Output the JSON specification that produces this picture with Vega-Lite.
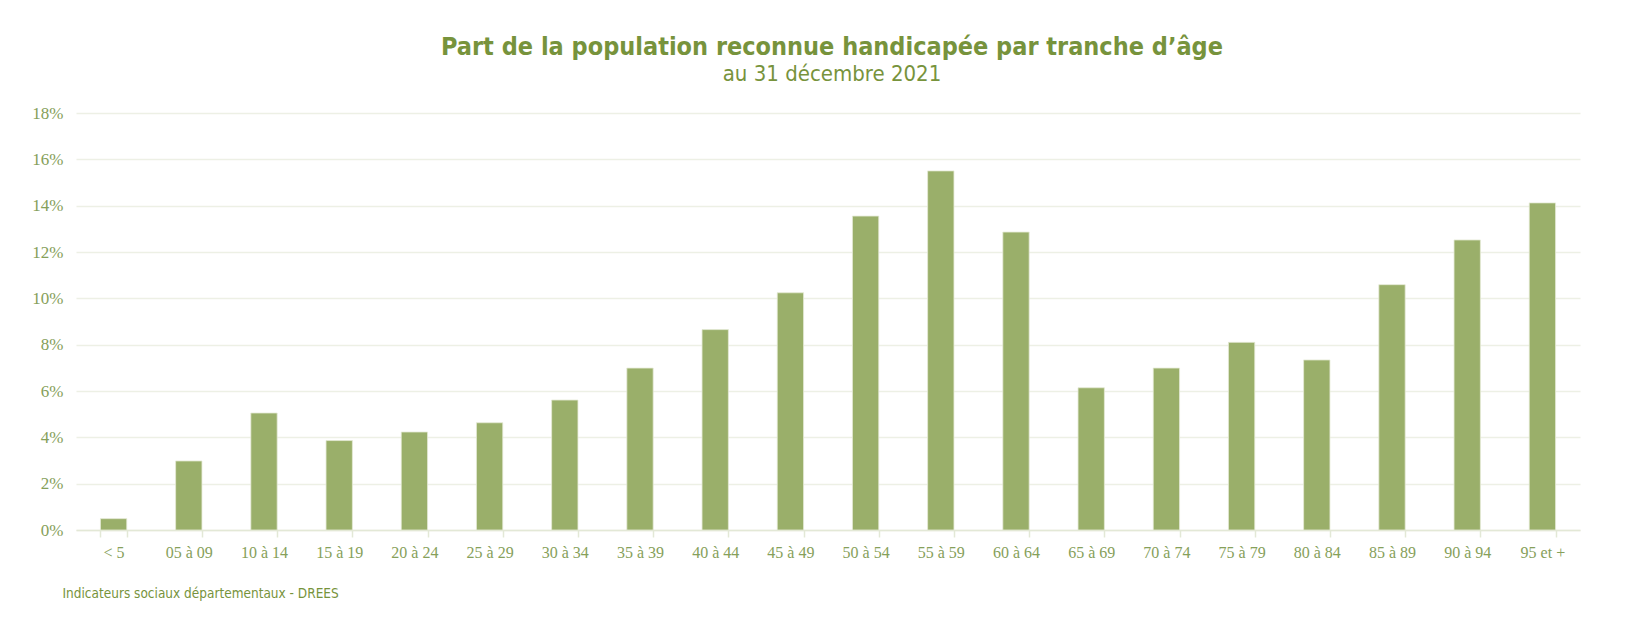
{
  "$schema": "https://vega.github.io/schema/vega-lite/v6.json",
  "autosize": {"type": "none"},
  "width": 1504,
  "height": 417,
  "padding": {"left": 76, "top": 113, "right": 51, "bottom": 88},
  "background": "white",
  "config": {"view": {"stroke": null}},
  "title": {
    "text": "Part de la population reconnue handicapée par tranche d’âge",
    "subtitle": "au 31 décembre 2021",
    "anchor": "middle",
    "frame": "group",
    "dx": 4,
    "offset": 19,
    "font": "DejaVu Sans Condensed, Liberation Sans",
    "fontSize": 25,
    "fontWeight": "bold",
    "color": "#77933C",
    "subtitleFont": "DejaVu Sans Condensed, Liberation Sans",
    "subtitleFontSize": 22,
    "subtitleColor": "#77933C",
    "subtitlePadding": 4
  },
  "data": {
    "values": [
      {"age": "< 5", "part": 0.0049},
      {"age": "05 à 09", "part": 0.0298},
      {"age": "10 à 14", "part": 0.0505},
      {"age": "15 à 19", "part": 0.0386},
      {"age": "20 à 24", "part": 0.0423},
      {"age": "25 à 29", "part": 0.0463},
      {"age": "30 à 34", "part": 0.0561},
      {"age": "35 à 39", "part": 0.0699},
      {"age": "40 à 44", "part": 0.0865},
      {"age": "45 à 49", "part": 0.1024},
      {"age": "50 à 54", "part": 0.1355},
      {"age": "55 à 59", "part": 0.155},
      {"age": "60 à 64", "part": 0.1286},
      {"age": "65 à 69", "part": 0.0614},
      {"age": "70 à 74", "part": 0.0699},
      {"age": "75 à 79", "part": 0.081},
      {"age": "80 à 84", "part": 0.0734},
      {"age": "85 à 89", "part": 0.1059},
      {"age": "90 à 94", "part": 0.1252},
      {"age": "95 et +", "part": 0.1412}
    ]
  },
  "mark": {"type": "bar", "color": "#9AAF6A", "stroke": "#E4EAD6", "strokeWidth": 0.8},
  "encoding": {
    "x": {
      "field": "age",
      "type": "nominal",
      "sort": null,
      "scale": {"paddingInner": 0.65, "paddingOuter": 0.325},
      "axis": {
        "title": "Indicateurs sociaux départementaux - DREES",
        "titleFont": "DejaVu Sans Condensed, Liberation Sans",
        "titleFontSize": 13.5,
        "titleFontWeight": "normal",
        "titleColor": "#77933C",
        "titleAnchor": "start",
        "titleAlign": "left",
        "titleBaseline": "middle",
        "titleX": -14,
        "titleY": 63,
        "labelAngle": 0,
        "labelFont": "Liberation Serif",
        "labelFontSize": 16,
        "labelColor": "#86A05A",
        "labelPadding": 7,
        "domainColor": "#E3E8D6",
        "domainWidth": 1.5,
        "tickColor": "#E3E8D6",
        "tickWidth": 1.5,
        "tickSize": 7,
        "tickBand": "extent"
      }
    },
    "y": {
      "field": "part",
      "type": "quantitative",
      "scale": {"domain": [0, 0.18]},
      "axis": {
        "title": null,
        "format": ".0%",
        "values": [0, 0.02, 0.04, 0.06, 0.08, 0.1, 0.12, 0.14, 0.16, 0.18],
        "labelFont": "Liberation Serif",
        "labelFontSize": 17,
        "labelColor": "#86A05A",
        "labelPadding": 13,
        "domain": false,
        "ticks": false,
        "gridColor": "#EDF0E5",
        "gridWidth": 1.5
      }
    }
  }
}
